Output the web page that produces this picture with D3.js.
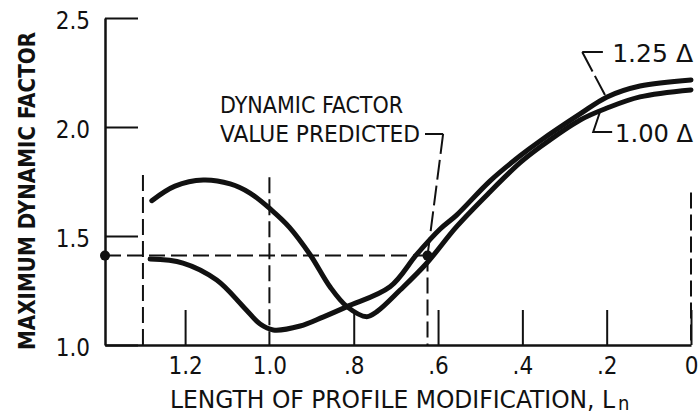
<!DOCTYPE html>
<html>
<head>
<meta charset="utf-8">
<script src="https://cdn.jsdelivr.net/npm/d3@7"></script>
<style>
  body { margin: 0; background: #fff; }
  svg { display: block; }
  text { font-family: "DejaVu Sans Condensed", "DejaVu Sans", sans-serif; font-stretch: condensed; fill: #111; }
</style>
</head>
<body>
<div id="chart"></div>
<script>
// tick values / labels
const lengthTicks = [1.2, 1.0, 0.8, 0.6, 0.4, 0.2, 0];
const lengthTickLabels = ["1.2", "1.0", ".8", ".6", ".4", ".2", "0"];
const factorTicks = [1.0, 1.5, 2.0, 2.5];
const factorTickLabels = ["1.0", "1.5", "2.0", "2.5"];

// 1.00 delta curve (the one with the hump on the left)
const length100 = [1.279, 1.224, 1.157, 1.093, 1.046, 0.995, 0.953, 0.903, 0.856, 0.816, 0.769, 0.745, 0.690, 0.627, 0.556, 0.477, 0.406, 0.358, 0.263, 0.199, 0.121, 0];
const factor100 = [1.662, 1.729, 1.757, 1.739, 1.697, 1.619, 1.541, 1.413, 1.266, 1.176, 1.130, 1.153, 1.252, 1.375, 1.543, 1.702, 1.835, 1.908, 2.032, 2.087, 2.138, 2.170];

// 1.25 delta curve
const length125 = [1.283, 1.205, 1.125, 1.062, 1.022, 0.991, 0.927, 0.873, 0.816, 0.714, 0.650, 0.595, 0.556, 0.477, 0.406, 0.358, 0.263, 0.199, 0.121, 0];
const factor125 = [1.394, 1.376, 1.298, 1.176, 1.096, 1.069, 1.087, 1.128, 1.176, 1.267, 1.417, 1.532, 1.596, 1.752, 1.867, 1.936, 2.060, 2.138, 2.188, 2.216];

// dashed guide lines (length, top factor)
const guideLength = [1.30, 1.00, 0];
const guideTop = [1.78, 1.77, 1.70];

// predicted point
const predLength = 0.625, predFactor = 1.41;

const width = 699, height = 416;
const svg = d3.select("#chart").append("svg")
  .attr("width", width)
  .attr("height", height);

const x = d3.scaleLinear().domain([1.39, 0]).range([105, 691]);
const y = d3.scaleLinear().domain([1.0, 2.5]).range([345, 18]);

// axes
const xAxis = svg.append("g")
  .attr("transform", `translate(0,${y(1)})`)
  .call(d3.axisBottom(x).tickValues(lengthTicks)
    .tickFormat((d, i) => lengthTickLabels[i])
    .tickSize(-35).tickSizeOuter(0).tickPadding(12))
  .attr("font-size", 24);
xAxis.selectAll(".tick").filter(d => d === 1.0).select("line").remove();

const yAxis = svg.append("g")
  .attr("transform", `translate(${x(1.39)},0)`)
  .call(d3.axisLeft(y).tickValues(factorTicks)
    .tickFormat((d, i) => factorTickLabels[i])
    .tickSize(-33).tickSizeOuter(0).tickPadding(15))
  .attr("font-size", 24);
yAxis.selectAll(".tick text").attr("dy", "0.42em");

svg.selectAll(".domain").attr("stroke", "#111").attr("stroke-width", 2.5);
svg.selectAll(".tick line").attr("stroke", "#111").attr("stroke-width", 2);
svg.selectAll(".tick text").attr("fill", "#111");

// guides
const dash = "16,6";
svg.selectAll(".guide")
  .data(guideLength)
  .enter().append("line")
  .attr("x1", d => x(d)).attr("x2", d => x(d))
  .attr("y1", (d, i) => y(guideTop[i])).attr("y2", y(1))
  .attr("stroke", "#111").attr("stroke-width", 2).attr("stroke-dasharray", dash);

svg.append("line")
  .attr("x1", x(1.39)).attr("x2", x(predLength))
  .attr("y1", y(predFactor)).attr("y2", y(predFactor))
  .attr("stroke", "#111").attr("stroke-width", 2).attr("stroke-dasharray", dash);

svg.append("line")
  .attr("x1", x(predLength)).attr("x2", x(predLength))
  .attr("y1", y(predFactor)).attr("y2", y(1))
  .attr("stroke", "#111").attr("stroke-width", 2).attr("stroke-dasharray", dash);

// curves
const line = d3.line()
  .x(d => x(d[0]))
  .y(d => y(d[1]))
  .curve(d3.curveCatmullRom.alpha(0.5));

[[length100, factor100], [length125, factor125]].forEach(([ls, fs]) => {
  svg.append("path")
    .datum(ls.map((l, i) => [l, fs[i]]))
    .attr("d", line)
    .attr("fill", "none")
    .attr("stroke", "#111")
    .attr("stroke-width", 5)
    .attr("stroke-linecap", "round");
});

// dots
svg.selectAll(".dot")
  .data([1.39, predLength])
  .enter().append("circle")
  .attr("cx", d => x(d)).attr("cy", y(predFactor)).attr("r", 5)
  .attr("fill", "#111");

// predicted annotation
svg.append("line")
  .attr("x1", x(0.631)).attr("x2", x(0.588))
  .attr("y1", y(1.968)).attr("y2", y(1.968))
  .attr("stroke", "#111").attr("stroke-width", 2);
svg.append("line")
  .attr("x1", x(0.588)).attr("x2", x(predLength))
  .attr("y1", y(1.968)).attr("y2", y(predFactor))
  .attr("stroke", "#111").attr("stroke-width", 2).attr("stroke-dasharray", "20,6");

svg.append("text").attr("x", x(1.117)).attr("y", y(2.064))
  .attr("font-size", 23).attr("textLength", 183).attr("lengthAdjust", "spacingAndGlyphs")
  .text("DYNAMIC FACTOR");
svg.append("text").attr("x", x(1.117)).attr("y", y(1.931))
  .attr("font-size", 23).attr("textLength", 200).attr("lengthAdjust", "spacingAndGlyphs")
  .text("VALUE PREDICTED");

// series labels
svg.append("line")
  .attr("x1", x(0.258)).attr("x2", x(0.209))
  .attr("y1", y(2.344)).attr("y2", y(2.344))
  .attr("stroke", "#111").attr("stroke-width", 2);
svg.append("line")
  .attr("x1", x(0.258)).attr("x2", x(0.204))
  .attr("y1", y(2.344)).attr("y2", y(2.147))
  .attr("stroke", "#111").attr("stroke-width", 2).attr("stroke-dasharray", "22,5");
svg.append("text").attr("x", x(0.187)).attr("y", y(2.298))
  .attr("font-size", 24).attr("textLength", 81).attr("lengthAdjust", "spacingAndGlyphs")
  .text("1.25 Δ");

svg.append("path")
  .attr("d", d3.line()([[x(0.216), y(2.069)], [x(0.232), y(1.977)], [x(0.187), y(1.977)]]))
  .attr("fill", "none").attr("stroke", "#111").attr("stroke-width", 2);
svg.append("text").attr("x", x(0.180)).attr("y", y(1.931))
  .attr("font-size", 24).attr("textLength", 78).attr("lengthAdjust", "spacingAndGlyphs")
  .text("1.00 Δ");

// axis titles
svg.append("text")
  .attr("transform", "translate(35,191) rotate(-90)")
  .attr("text-anchor", "middle")
  .attr("font-size", 23).attr("font-weight", "bold")
  .attr("textLength", 318).attr("lengthAdjust", "spacingAndGlyphs")
  .text("MAXIMUM DYNAMIC FACTOR");

svg.append("text").attr("x", 170).attr("y", 408)
  .attr("font-size", 24).attr("textLength", 445).attr("lengthAdjust", "spacingAndGlyphs")
  .text("LENGTH OF PROFILE MODIFICATION, L");
svg.append("text").attr("x", 618).attr("y", 410)
  .attr("font-size", 20)
  .text("n");
</script>
</body>
</html>
